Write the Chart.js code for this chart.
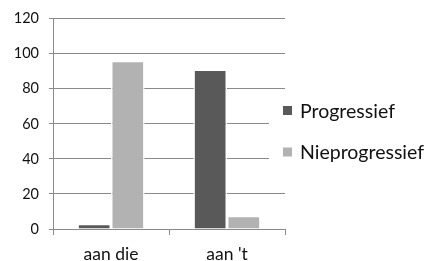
<!DOCTYPE html>
<html>
<head>
<meta charset="utf-8">
<script src="https://cdn.jsdelivr.net/npm/chart.js@4"></script>
<style>
html,body{margin:0;padding:0;background:#fff;}
#wrap{width:430px;height:261px;position:relative;}
</style>
</head>
<body>
<div id="wrap"><canvas id="c" width="430" height="261"></canvas></div>
<script>
const categories = ["aan die", "aan 't"];
const seriesNames = ["Progressief", "Nieprogressief"];
const progressief = [3, 91];
const nieprogressief = [96, 7.5];
const yTicks = [0, 20, 40, 60, 80, 100, 120];

const colors = ["#595959", "#b2b2b2"];
const gridColor = "#8a8a8a";
const fontFamily = "Lato, 'Open Sans', sans-serif";

const legendPlugin = {
  id: 'sideLegend',
  afterDraw(chart) {
    const ctx = chart.ctx;
    const ca = chart.chartArea;
    ctx.save();
    ctx.fillStyle = '#fff';
    ctx.fillRect(ca.right - 16, 100, 430 - (ca.right - 16), 80);
    const x0 = ca.right - 2;
    const rows = [110.5, 152];
    ctx.font = "19.5px " + fontFamily;
    ctx.textBaseline = 'middle';
    ctx.textAlign = 'left';
    chart.data.datasets.forEach((ds, i) => {
      ctx.fillStyle = ds.backgroundColor;
      ctx.fillRect(x0, rows[i] - 4.5, 9, 9);
      ctx.fillStyle = '#111';
      ctx.fillText(ds.label, x0 + 17, rows[i] + 1);
    });
    ctx.restore();
  }
};

new Chart(document.getElementById('c'), {
  type: 'bar',
  data: {
    labels: categories,
    datasets: [
      { label: seriesNames[0], data: progressief, backgroundColor: colors[0], borderColor: '#ffffff', borderWidth: 1.5 },
      { label: seriesNames[1], data: nieprogressief, backgroundColor: colors[1], borderColor: '#ffffff', borderWidth: 1.5 }
    ]
  },
  options: {
    responsive: false,
    animation: false,
    devicePixelRatio: 1,
    layout: { padding: { top: 18, right: 145, left: 0, bottom: 0 } },
    datasets: { bar: { categoryPercentage: 0.58, barPercentage: 1.0 } },
    plugins: {
      legend: { display: false },
      tooltip: { enabled: false }
    },
    scales: {
      x: {
        offset: true,
        grid: { display: true, drawOnChartArea: false, drawTicks: true, tickLength: 6, color: gridColor, lineWidth: 1 },
        border: { display: true, color: gridColor, width: 1 },
        ticks: { color: '#111', font: { family: fontFamily, size: 17.5 }, padding: 9, maxRotation: 0 },
        afterFit(scale) { scale.height = 32; }
      },
      y: {
        min: 0,
        max: 120,
        afterBuildTicks(scale) { scale.ticks = yTicks.map(v => ({ value: v })); },
        grid: { display: true, drawTicks: true, tickLength: 4, color: gridColor, lineWidth: 1 },
        border: { display: true, color: gridColor, width: 1 },
        ticks: { color: '#111', font: { family: fontFamily, size: 14.5 }, padding: 10 },
        afterFit(scale) { scale.width = 53; }
      }
    }
  },
  plugins: [legendPlugin]
});
</script>
</body>
</html>
